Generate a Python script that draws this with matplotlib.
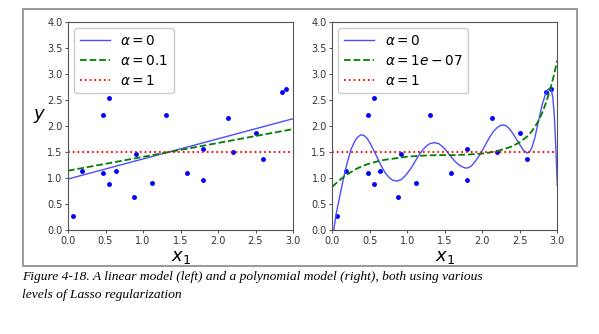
#######################################
###     CodeBlock: Modules & Data
#######################################
import numpy as np
import matplotlib.pyplot as plt
from matplotlib.patches import Rectangle

### Training points
X_pts = [0.06, 0.18, 0.47, 0.47, 0.55, 0.55, 0.64, 0.88, 0.91, 1.12,
         1.30, 1.58, 1.80, 1.80, 2.13, 2.20, 2.50, 2.60, 2.85, 2.91]
y_pts = [0.27, 1.14, 2.22, 1.10, 2.53, 0.88, 1.14, 0.63, 1.46, 0.90,
         2.21, 1.10, 0.96, 1.55, 2.15, 1.50, 1.86, 1.36, 2.65, 2.72]

### Left panel: linear model, end points of each line
lin_x = [0.0, 3.0]
lin_a0 = [0.98, 2.14]
lin_a01 = [1.14, 1.94]
lin_a1 = [1.5, 1.5]

poly_x_a0 = [0.02, 0.05, 0.1, 0.15, 0.2, 0.25, 0.3, 0.34, 0.38, 0.42, 0.46, 0.5,
             0.55, 0.6, 0.65, 0.7, 0.75, 0.8, 0.86, 0.92, 0.97, 1.0, 1.05, 1.1,
             1.15, 1.2, 1.25, 1.3, 1.36, 1.42, 1.47, 1.5, 1.55, 1.6, 1.65, 1.7,
             1.74, 1.78, 1.82, 1.86, 1.9, 1.95, 2.0, 2.05, 2.1, 2.15, 2.2, 2.24,
             2.28, 2.32, 2.36, 2.4, 2.45, 2.5, 2.55, 2.6, 2.63, 2.66, 2.7, 2.75,
             2.8, 2.84, 2.87, 2.9, 2.92, 2.94, 2.96, 2.98, 3.0]
poly_a0 = [0.0, 0.3, 0.65, 1.0, 1.3, 1.55, 1.71, 1.79, 1.83, 1.82, 1.77, 1.68,
           1.54, 1.39, 1.24, 1.11, 1.02, 0.96, 0.94, 0.97, 1.04, 1.09, 1.19, 1.31,
           1.43, 1.53, 1.61, 1.66, 1.68, 1.66, 1.6, 1.56, 1.47, 1.38, 1.3, 1.24,
           1.21, 1.19, 1.2, 1.24, 1.31, 1.41, 1.53, 1.66, 1.79, 1.9, 1.97, 2.01,
           2.02, 2.0, 1.95, 1.87, 1.76, 1.64, 1.53, 1.48, 1.5, 1.58, 1.77, 2.1,
           2.42, 2.6, 2.69, 2.73, 2.7, 2.55, 2.2, 1.6, 0.86]

poly_x_a1e7 = [0.0, 0.05, 0.1, 0.15, 0.2, 0.3, 0.4, 0.5, 0.6, 0.7, 0.8, 1.0,
               1.2, 1.4, 1.6, 1.8, 2.0, 2.1, 2.2, 2.3, 2.4, 2.5, 2.6, 2.65,
               2.7, 2.75, 2.8, 2.85, 2.9, 2.95, 3.0]
poly_a1e7 = [0.83, 0.9, 0.96, 1.02, 1.07, 1.16, 1.23, 1.28, 1.32, 1.35, 1.37, 1.41,
             1.43, 1.44, 1.44, 1.45, 1.47, 1.49, 1.52, 1.56, 1.61, 1.69, 1.8, 1.88,
             1.98, 2.1, 2.26, 2.45, 2.68, 2.95, 3.26]
poly_a1 = [1.5, 1.5]

tick_vals = [0.0, 0.5, 1.0, 1.5, 2.0, 2.5, 3.0]
ytick_vals = [0.0, 0.5, 1.0, 1.5, 2.0, 2.5, 3.0, 3.5, 4.0]

caption = ("Figure 4-18. A linear model (left) and a polynomial model (right), both using various\n"
           "levels of Lasso regularization")

blue_line = (0.3, 0.3, 1.0)

#######################################
###     Plotting
#######################################
fig = plt.figure(figsize=(5.99, 3.34), dpi=100)
ax1 = fig.add_axes([68 / 599, 1 - 230 / 334, 225 / 599, 208 / 334])
ax2 = fig.add_axes([332.3 / 599, 1 - 230 / 334, 225 / 599, 208 / 334])

def style_axes(ax):
    ax.set_xlim(0, 3)
    ax.set_ylim(0, 4)
    ax.set_xticks(tick_vals)
    ax.set_yticks(ytick_vals)
    ax.tick_params(labelsize=7, length=2.5, width=0.6, pad=1.5, colors='#333333')
    for s in ax.spines.values():
        s.set_color('#555555')
        s.set_linewidth(0.8)
    ax.set_xlabel('$x_1$', fontsize=13, labelpad=1.5)
    ax.legend(loc='upper left', fontsize=9.8, handlelength=2.2, borderpad=0.4,
              labelspacing=0.45, borderaxespad=0.45, edgecolor='#cccccc', framealpha=1)

ax1.plot(X_pts, y_pts, 'b.', markersize=5)
ax1.plot(lin_x, lin_a0, '-', color=blue_line, linewidth=1.0, label=r'$\alpha = 0$')
ax1.plot(lin_x, lin_a01, 'g--', linewidth=1.3, label=r'$\alpha = 0.1$')
ax1.plot(lin_x, lin_a1, 'r:', linewidth=1.3, label=r'$\alpha = 1$')
style_axes(ax1)
ax1.set_ylabel('$y$', fontsize=13, rotation=0, va='center')
ax1.yaxis.set_label_coords(-0.125, 0.55)

ax2.plot(X_pts, y_pts, 'b.', markersize=5)
ax2.plot(poly_x_a0, poly_a0, '-', color=blue_line, linewidth=1.0, label=r'$\alpha = 0$')
ax2.plot(poly_x_a1e7, poly_a1e7, 'g--', linewidth=1.3, label=r'$\alpha = 1e-07$')
ax2.plot(lin_x, poly_a1, 'r:', linewidth=1.3, label=r'$\alpha = 1$')
style_axes(ax2)

### Outer frame and caption
fig.patches.append(Rectangle((23 / 599, 1 - 266 / 334), 554 / 599, 257 / 334,
                             transform=fig.transFigure, fill=False,
                             edgecolor='#888888', linewidth=1.2))
fig.text(22 / 599, 1 - 271 / 334, caption, ha='left', va='top', fontsize=9.7,
         family='Liberation Serif', style='italic', linespacing=1.65)

fig.savefig('out.png', dpi=100)
